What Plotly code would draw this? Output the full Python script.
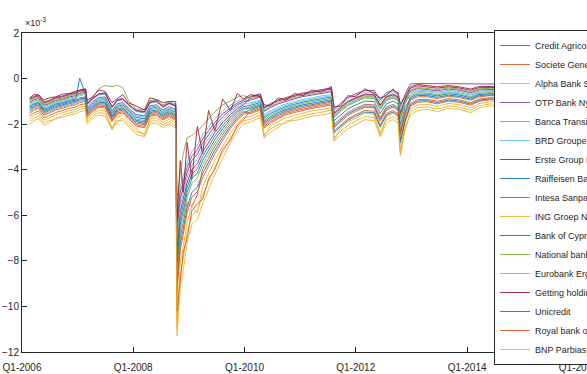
import plotly.graph_objects as go

dates = [
    "2006-02-20", "2006-03-20", "2006-04-20", "2006-05-25", "2006-06-25", "2006-08-10",
    "2006-09-25", "2006-11-10", "2006-12-20", "2007-01-15", "2007-02-22",
    "2007-03-05", "2007-04-10", "2007-05-20", "2007-07-01", "2007-08-15", "2007-09-20",
    "2007-10-25", "2007-12-01", "2008-01-20", "2008-03-15", "2008-04-20", "2008-06-01",
    "2008-07-15", "2008-08-25", "2008-10-06",
    "2008-10-15", "2008-11-05", "2008-11-25", "2008-12-20", "2009-01-20", "2009-02-25",
    "2009-04-01", "2009-05-10", "2009-06-20", "2009-08-10", "2009-10-01", "2009-11-15",
    "2009-12-25",
    "2010-02-10", "2010-04-15", "2010-05-10", "2010-06-20", "2010-08-10", "2010-10-01",
    "2010-11-25", "2011-01-20", "2011-03-20", "2011-05-20", "2011-07-25",
    "2011-08-12", "2011-09-25", "2011-11-10", "2012-01-01", "2012-03-01", "2012-05-01",
    "2012-06-10", "2012-07-20", "2012-09-01", "2012-10-05", "2012-10-20", "2012-11-20",
    "2012-12-25", "2013-02-10", "2013-04-15", "2013-06-20", "2013-09-01", "2013-11-10",
    "2014-01-25", "2014-03-20", "2014-06-01", "2014-09-01",
]

credit_agricole = [
    -1.22, -1.11, -1.04, -1.34, -1.27, -1.12, -1.05, -0.95, -0.90, 0.02, -0.70,
    -1.53, -1.28, -1.11, -1.11, -1.71, -1.39, -1.34, -1.59, -1.89, -1.97, -1.49, -1.44, -1.66, -1.51, -1.66,
    -9.03, -7.24, -6.58, -5.66, -5.00, -4.77, -4.17, -3.68, -3.14, -2.59, -2.09, -1.73, -1.51,
    -1.36, -1.21, -1.95, -1.75, -1.57, -1.41, -1.31, -1.21, -1.14, -1.06, -0.99,
    -2.08, -1.80, -1.55, -1.37, -1.20, -1.22, -1.79, -1.32, -1.20, -1.32, -2.37, -1.54,
    -0.82, -0.68, -0.69, -0.76, -0.67, -0.72, -0.84, -0.70, -0.66, -0.68,
]
societe_generale = [
    -1.40, -1.28, -1.20, -1.50, -1.43, -1.28, -1.20, -1.10, -1.05, -0.95, -0.90,
    -1.63, -1.38, -1.22, -1.23, -1.83, -1.50, -1.45, -1.70, -2.02, -2.10, -1.60, -1.55, -1.77, -1.62, -1.78,
    -9.35, -7.52, -6.84, -5.88, -5.20, -4.97, -4.36, -3.85, -3.29, -2.72, -2.19, -1.81, -1.58,
    -1.48, -1.32, -2.10, -1.88, -1.70, -1.53, -1.43, -1.33, -1.25, -1.18, -1.10,
    -2.00, -1.73, -1.48, -1.30, -1.13, -1.15, -1.70, -1.25, -1.13, -1.25, -2.25, -1.45,
    -0.95, -0.80, -0.80, -0.88, -0.78, -0.83, -0.95, -0.80, -0.75, -0.78,
]
alpha_bank = [
    -1.76, -1.62, -1.53, -1.83, -1.74, -1.59, -1.50, -1.40, -1.35, -1.25, -1.20,
    -1.79, -1.54, -1.38, -1.41, -2.20, -1.67, -1.62, -1.87, -2.20, -2.50, -1.77, -1.72, -1.93, -1.78, -1.96,
    -11.00, -8.08, -7.36, -6.32, -5.60, -5.90, -4.74, -4.20, -3.59, -2.98, -2.39, -1.97, -1.72,
    -1.66, -1.48, -2.55, -2.08, -1.89, -1.71, -1.61, -1.51, -1.42, -1.36, -1.27,
    -2.70, -2.16, -1.91, -1.72, -1.53, -1.57, -2.50, -1.67, -1.53, -1.67, -3.30, -1.96,
    -1.34, -1.16, -1.13, -1.22, -1.09, -1.14, -1.28, -1.10, -1.02, -1.06,
]
otp_bank = [
    -1.04, -0.93, -0.87, -1.17, -1.11, -0.96, -0.90, -0.80, -0.75, -0.65, -0.60,
    -1.27, -1.02, -0.83, -0.81, -1.41, -1.10, -1.05, -1.30, -1.58, -1.64, -1.20, -1.15, -1.38, -1.23, -1.36,
    -6.75, -5.28, -4.76, -4.12, -3.60, -3.33, -2.84, -2.45, -2.07, -1.68, -1.37, -1.15, -1.02,
    -0.94, -0.82, -1.44, -1.27, -1.11, -0.99, -0.89, -0.79, -0.73, -0.64, -0.58,
    -1.55, -1.29, -1.04, -0.88, -0.72, -0.73, -1.19, -0.83, -0.72, -0.83, -1.56, -0.94,
    -0.56, -0.44, -0.47, -0.53, -0.46, -0.51, -0.62, -0.50, -0.48, -0.49,
]
banca_transilvania = [
    -0.99, -0.88, -0.82, -1.12, -1.06, -0.91, -0.85, -0.75, -0.70, -0.60, -0.55,
    -1.06, -0.81, -0.45, -0.30, -0.35, -0.30, -0.40, -0.95, -1.33, -1.38, -0.97, -0.92, -1.16, -1.01, -1.12,
    -5.45, -4.16, -3.30, -2.60, -2.50, -2.30, -2.08, -1.75, -1.46, -1.16, -0.96, -0.82, -0.74,
    -0.89, -0.77, -1.39, -1.22, -1.06, -0.94, -0.84, -0.74, -0.68, -0.59, -0.53,
    -1.70, -1.44, -1.19, -1.02, -0.86, -0.87, -1.36, -0.97, -0.86, -0.97, -1.79, -1.11,
    -0.51, -0.39, -0.42, -0.48, -0.41, -0.46, -0.57, -0.45, -0.43, -0.44,
]
brd_groupe = [
    -1.16, -1.05, -0.98, -1.28, -1.22, -1.07, -1.00, -0.90, -0.85, -0.75, -0.70,
    -1.16, -0.91, -0.72, -0.69, -1.29, -0.98, -0.93, -1.18, -1.45, -1.51, -1.08, -1.03, -1.27, -1.12, -1.24,
    -6.10, -4.72, -4.24, -3.68, -3.20, -2.92, -2.46, -2.10, -1.76, -1.42, -1.16, -0.98, -0.88,
    -1.06, -0.93, -1.59, -1.41, -1.24, -1.11, -1.01, -0.91, -0.85, -0.76, -0.70,
    -1.65, -1.39, -1.14, -0.97, -0.81, -0.82, -1.31, -0.92, -0.81, -0.92, -1.74, -1.06,
    -0.69, -0.56, -0.58, -0.65, -0.57, -0.62, -0.73, -0.60, -0.57, -0.59,
]
erste_group = [
    -0.92, -0.82, -0.76, -1.06, -1.01, -0.86, -0.80, -0.70, -0.65, -0.55, -0.50,
    -1.12, -0.87, -0.68, -0.65, -1.25, -0.94, -0.89, -1.14, -1.41, -1.47, -1.04, -0.99, -1.23, -1.08, -1.20,
    -7.40, -5.84, -5.28, -4.56, -4.00, -3.74, -3.22, -2.80, -2.37, -1.94, -1.57, -1.31, -1.16,
    -0.82, -0.71, -1.30, -1.14, -0.98, -0.87, -0.77, -0.67, -0.62, -0.52, -0.47,
    -1.51, -1.25, -1.00, -0.84, -0.68, -0.69, -1.15, -0.79, -0.68, -0.79, -1.52, -0.90,
    -0.43, -0.32, -0.36, -0.42, -0.36, -0.41, -0.51, -0.40, -0.39, -0.40,
]
raiffeisen = [
    -1.34, -1.22, -1.15, -1.45, -1.38, -1.23, -1.15, -1.05, -1.00, -0.90, -0.85,
    -1.37, -1.12, -0.94, -0.93, -1.53, -1.21, -1.16, -1.41, -1.70, -1.77, -1.31, -1.26, -1.49, -1.34, -1.48,
    -7.73, -6.12, -5.54, -4.78, -4.20, -3.95, -3.41, -2.98, -2.53, -2.07, -1.68, -1.40, -1.23,
    -1.18, -1.04, -1.73, -1.54, -1.37, -1.23, -1.13, -1.03, -0.96, -0.88, -0.81,
    -1.85, -1.58, -1.33, -1.16, -0.99, -1.01, -1.53, -1.11, -0.99, -1.11, -2.02, -1.28,
    -0.89, -0.74, -0.75, -0.82, -0.73, -0.78, -0.90, -0.75, -0.71, -0.73,
]
intesa = [
    -1.64, -1.51, -1.42, -1.72, -1.64, -1.49, -1.40, -1.30, -1.25, -1.15, -1.10,
    -1.69, -1.44, -1.27, -1.29, -1.89, -1.56, -1.51, -1.76, -2.08, -2.16, -1.66, -1.61, -1.82, -1.67, -1.84,
    -8.70, -6.96, -6.32, -5.44, -5.60, -5.10, -3.98, -3.50, -2.98, -2.46, -1.98, -1.64, -1.44,
    -1.54, -1.37, -2.17, -1.95, -1.76, -1.59, -1.49, -1.39, -1.31, -1.24, -1.16,
    -2.30, -2.02, -1.77, -1.58, -1.40, -1.43, -2.04, -1.53, -1.40, -1.53, -2.71, -1.79,
    -1.21, -1.04, -1.02, -1.11, -0.99, -1.04, -1.17, -1.00, -0.93, -0.97,
]
ing_groep = [
    -1.88, -1.74, -1.64, -1.94, -1.85, -1.80, -1.60, -1.50, -1.45, -1.35, -1.30,
    -1.90, -1.65, -1.49, -1.53, -2.13, -1.90, -1.74, -1.99, -2.33, -2.42, -1.89, -1.84, -2.04, -1.89, -2.08,
    -10.65, -8.64, -7.88, -6.76, -6.00, -5.79, -5.12, -4.55, -3.90, -3.24, -2.60, -2.14, -1.86,
    -1.78, -1.59, -2.46, -2.22, -2.02, -1.95, -1.73, -1.63, -1.54, -1.48, -1.39,
    -2.75, -2.45, -2.20, -2.00, -1.80, -1.85, -2.55, -1.95, -1.80, -1.95, -3.40, -2.30,
    -1.47, -1.28, -1.24, -1.34, -1.20, -1.25, -1.39, -1.20, -1.11, -1.16,
]
bank_of_cyprus = [
    -0.88, -0.78, -0.72, -1.02, -0.97, -0.82, -0.76, -0.66, -0.61, -0.51, -0.46,
    -1.11, -0.86, -0.67, -0.63, -1.23, -0.93, -0.88, -1.13, -1.39, -1.45, -1.03, -0.98, -1.22, -1.07, -1.18,
    -6.43, -5.00, -4.50, -3.90, -3.40, -3.13, -2.65, -2.28, -1.92, -1.55, -1.27, -1.07, -0.95,
    -0.78, -0.67, -1.26, -1.10, -0.94, -0.83, -0.73, -0.63, -0.58, -0.48, -0.43,
    -1.33, -1.08, -0.83, -0.67, -0.52, -0.52, -0.94, -0.62, -0.52, -0.62, -1.22, -0.69,
    -0.24, -0.22, -0.22, -0.23, -0.22, -0.23, -0.25, -0.24, -0.24, -0.24,
]
national_bank_greece = [
    -1.10, -0.99, -0.93, -1.23, -1.17, -1.02, -0.95, -0.85, -0.80, -0.70, -0.65,
    -1.43, -1.18, -1.00, -0.99, -1.59, -1.27, -1.22, -1.47, -1.77, -1.84, -1.37, -1.32, -1.55, -1.40, -1.54,
    -8.38, -6.68, -6.06, -5.22, -4.60, -4.36, -3.79, -3.33, -2.83, -2.33, -1.88, -1.56, -1.37,
    -1.24, -1.10, -1.81, -1.61, -1.44, -1.29, -1.19, -1.09, -1.02, -0.94, -0.87,
    -1.63, -1.37, -1.12, -0.95, -0.79, -0.80, -1.28, -0.90, -0.79, -0.90, -1.68, -1.03,
    -0.76, -0.62, -0.64, -0.71, -0.62, -0.67, -0.79, -0.65, -0.62, -0.64,
]
eurobank = [
    -1.46, -1.34, -1.26, -1.56, -1.48, -1.33, -1.25, -1.15, -1.10, -1.00, -0.95,
    -1.32, -1.07, -0.89, -0.87, -1.47, -1.16, -1.11, -1.36, -1.64, -1.71, -1.26, -1.21, -1.44, -1.29, -1.42,
    -7.08, -5.56, -5.02, -4.34, -3.80, -3.54, -3.03, -2.63, -2.22, -1.81, -1.47, -1.23, -1.09,
    -1.12, -0.99, -1.66, -1.48, -1.31, -1.17, -1.07, -0.97, -0.91, -0.82, -0.76,
    -1.40, -1.15, -0.90, -0.74, -0.59, -0.59, -1.02, -0.69, -0.59, -0.69, -1.33, -0.77,
    -0.63, -0.50, -0.53, -0.59, -0.52, -0.57, -0.68, -0.55, -0.53, -0.54,
]
getting_holding = [
    -0.85, -0.70, -0.72, -0.95, -0.85, -0.80, -0.68, -0.65, -0.55, -0.50, -0.45,
    -0.95, -0.81, -0.50, -0.57, -1.05, -0.87, -0.70, -1.07, -1.20, -1.38, -0.85, -0.92, -1.05, -1.01, -1.00,
    -6.20, -3.60, -5.00, -2.80, -4.40, -2.10, -3.30, -1.40, -2.30, -0.90, -1.40, -0.65, -0.90,
    -0.70, -0.80, -1.15, -1.20, -0.85, -0.95, -0.65, -0.75, -0.50, -0.60, -0.35,
    -1.25, -1.20, -0.75, -0.80, -0.45, -0.65, -0.85, -0.75, -0.45, -0.70, -1.10, -0.80,
    -0.37, -0.26, -0.31, -0.36, -0.31, -0.36, -0.46, -0.35, -0.35, -0.35,
]
unicredit = [
    -1.28, -1.16, -1.09, -1.39, -1.32, -1.17, -1.10, -1.00, -0.95, -0.85, -0.80,
    -1.48, -1.23, -1.05, -1.05, -1.65, -1.33, -1.28, -1.53, -1.83, -1.90, -1.43, -1.38, -1.60, -1.45, -1.60,
    -8.05, -6.40, -5.80, -5.00, -4.40, -4.15, -3.60, -3.15, -2.68, -2.20, -1.78, -1.48, -1.30,
    -1.30, -1.15, -1.88, -1.68, -1.50, -1.35, -1.25, -1.15, -1.08, -1.00, -0.93,
    -2.38, -2.09, -1.84, -1.65, -1.47, -1.50, -2.13, -1.60, -1.47, -1.60, -2.83, -1.88,
    -1.15, -0.98, -0.97, -1.05, -0.94, -0.99, -1.12, -0.95, -0.89, -0.92,
]
royal_bank_scotland = [
    -1.52, -1.39, -1.31, -1.61, -1.53, -1.38, -1.30, -1.20, -1.15, -1.05, -1.00,
    -1.58, -1.33, -1.16, -1.17, -1.77, -1.44, -1.39, -1.64, -1.95, -2.03, -1.54, -1.49, -1.71, -1.56, -1.72,
    -10.20, -8.90, -7.60, -7.00, -5.80, -5.50, -5.30, -4.40, -4.00, -3.10, -2.70, -2.05, -1.80,
    -1.42, -1.26, -2.02, -1.81, -1.63, -1.47, -1.37, -1.27, -1.19, -1.12, -1.04,
    -2.15, -1.87, -1.62, -1.44, -1.26, -1.29, -1.87, -1.39, -1.26, -1.39, -2.48, -1.62,
    -1.08, -0.92, -0.91, -0.99, -0.88, -0.93, -1.06, -0.90, -0.84, -0.87,
]
bnp_paribas = [
    -2.00, -1.85, -1.75, -2.05, -1.95, -1.72, -1.70, -1.60, -1.55, -1.45, -1.40,
    -2.00, -1.75, -1.60, -1.65, -2.25, -1.84, -1.85, -2.10, -2.45, -2.55, -2.00, -1.95, -2.15, -2.00, -2.20,
    -11.30, -9.20, -8.40, -7.20, -6.40, -6.20, -5.50, -4.90, -4.20, -3.50, -2.80, -2.30, -2.00,
    -1.90, -1.70, -2.60, -2.35, -2.15, -1.86, -1.85, -1.75, -1.65, -1.60, -1.50,
    -2.60, -2.31, -2.06, -1.86, -1.67, -1.71, -2.38, -1.81, -1.67, -1.81, -3.17, -2.13,
    -1.60, -1.40, -1.35, -1.45, -1.30, -1.35, -1.50, -1.30, -1.20, -1.25,
]

bank_names = [
    "Credit Agricole SA", "Societe Generale", "Alpha Bank SA", "OTP Bank Nyrt",
    "Banca Transilvania SA", "BRD Groupe Societe Generale", "Erste Group Bank AG",
    "Raiffeisen Bank International", "Intesa Sanpaolo SpA", "ING Groep NV",
    "Bank of Cyprus PCL", "National bank of greece", "Eurobank Ergasia",
    "Getting holding- idea", "Unicredit", "Royal bank of Scotland", "BNP Parbias",
]
series_values = [
    credit_agricole, societe_generale, alpha_bank, otp_bank, banca_transilvania,
    brd_groupe, erste_group, raiffeisen, intesa, ing_groep, bank_of_cyprus,
    national_bank_greece, eurobank, getting_holding, unicredit, royal_bank_scotland,
    bnp_paribas,
]

x_tick_dates = ["2006-01-01", "2008-01-01", "2010-01-01", "2012-01-01", "2014-01-01", "2016-01-01"]
x_tick_labels = ["Q1-2006", "Q1-2008", "Q1-2010", "Q1-2012", "Q1-2014", "Q1-2016"]
y_tick_values = [2, 0, -2, -4, -6, -8, -10, -12]

palette = ["#0072BD", "#D95319", "#EDB120", "#7E2F8E", "#77AC30", "#4DBEEE", "#A2142F"]

FONT = "Liberation Sans Narrow, Arial Narrow, Liberation Sans, sans-serif"
AXIS = "#262626"

# The figure is a little larger than the window so that, as in the reference,
# the right end of the axes and the legend run past the picture's edge.
FIG_W, FIG_H = 680, 390
M_L, M_T, M_R, M_B = 22, 33, 74, 38

fig = go.Figure()
for k, (name, vals) in enumerate(zip(bank_names, series_values)):
    fig.add_trace(go.Scatter(
        x=dates, y=vals, mode="lines", name=name, opacity=0.85,
        line=dict(color=palette[k % 7], width=1),
    ))

plot_w = FIG_W - M_L - M_R
plot_h = FIG_H - M_T - M_B
fig.update_layout(
    width=FIG_W, height=FIG_H,
    margin=dict(l=M_L, r=M_R, t=M_T, b=M_B),
    paper_bgcolor="white", plot_bgcolor="white",
    font=dict(family=FONT, size=10, color=AXIS),
    showlegend=True,
    legend=dict(
        x=(494 - M_L) / plot_w, y=1 + 3 / plot_h, xanchor="left", yanchor="top",
        bgcolor="white", bordercolor=AXIS, borderwidth=1,
        font=dict(family=FONT, size=9, color=AXIS),
        itemwidth=30, tracegroupgap=0, maxheight=400,
    ),
    annotations=[dict(
        x=0, y=1, xref="paper", yref="paper", xanchor="left", yanchor="bottom",
        text="×10<sup>-3</sup>", showarrow=False, xshift=1, yshift=3,
        font=dict(family=FONT, size=9, color=AXIS),
    )],
)
fig.update_xaxes(
    range=["2006-01-01", "2016-07-01"], automargin=False,
    tickvals=x_tick_dates, ticktext=x_tick_labels,
    ticks="inside", ticklen=5, tickcolor=AXIS,
    ticklabeloverflow="allow", ticklabelstandoff=6,
    showline=True, linecolor=AXIS, linewidth=1, mirror="ticks",
    showgrid=False, zeroline=False,
)
fig.update_yaxes(
    range=[-12, 2], tickvals=y_tick_values, automargin=False,
    ticks="inside", ticklen=5, tickcolor=AXIS,
    ticklabeloverflow="allow",
    showline=True, linecolor=AXIS, linewidth=1, mirror=False,
    showgrid=False, zeroline=False,
)

fig.write_html(
    "out.html",
    config={"displayModeBar": False},
    post_script="document.body.style.margin='0';",
)
